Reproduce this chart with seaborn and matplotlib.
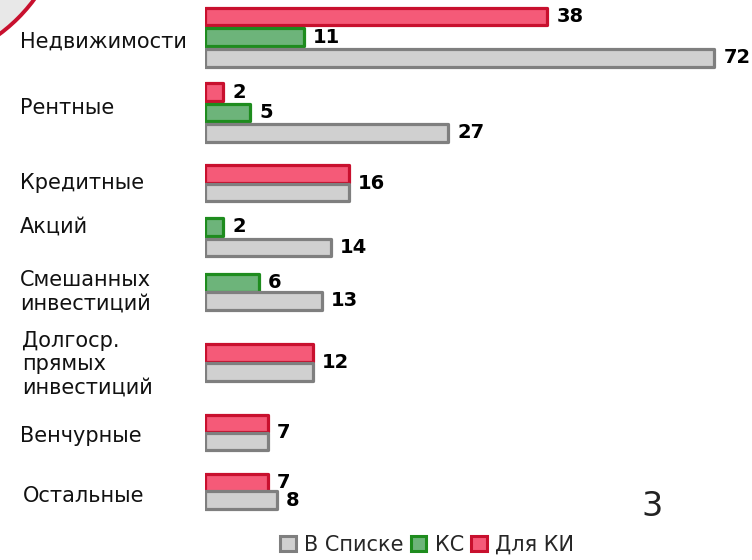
import numpy as np
import pandas as pd
import matplotlib.pyplot as plt
import matplotlib.colors as mcolors
import seaborn as sns
from matplotlib.patches import Circle, Patch

# ---- data ----
categories = ["Недвижимости", "Рентные", "Кредитные", "Акций",
              "Смешанных\nинвестиций", "Долгоср.\nпрямых\nинвестиций",
              "Венчурные", "Остальные"]
series = ["Для КИ", "КС", "В Списке"]          # top-to-bottom inside a group
v_ki = [38, 2, 16, None, None, 12, 7, 7]
v_ks = [11, 5, None, 2, 6, None, None, None]
v_list = [72, 27, 16, 14, 13, 12, 7, 8]
legend_order = ["В Списке", "КС", "Для КИ"]
page_number = "3"

# ---- layout (pixels from the top of the 752x560 canvas) ----
W, H = 752, 560
group_top = [16.5, 92, 174, 227, 283, 353, 423.5, 483]
group_pitch = [20.7, 20.5, 18.5, 20.5, 18, 19, 18, 17]
label_baseline = [48, 114, 189, 233, 286, 347, 442, 502]
label_x = [20, 20, 20, 20, 20, 22, 20, 23]
line_px = 23.5
bar_h = 17.5
px_per_unit = 9.0
x0_px = 204.5

fill = {"В Списке": "#D0D0D0", "КС": "#6DB47A", "Для КИ": "#F55A78"}
edge = {"В Списке": "#7F7F7F", "КС": "#1E8C1E", "Для КИ": "#C8102E"}

# long table, one row per drawn bar
rows = []
for i, cat in enumerate(categories):
    y = group_top[i]
    for s, vals in zip(series, [v_ki, v_ks, v_list]):
        if vals[i] is None:
            continue
        rows.append({"cat": cat, "series": s, "value": vals[i], "y": y})
        y += group_pitch[i]
df = pd.DataFrame(rows)

# the slide squeezes the long bar (72) – axis compressed past 40
brk, k = 40.0, 0.52


def fwd(x):
    x = np.asarray(x, float)
    return np.where(x <= brk, x, brk + (x - brk) * k)


def inv(x):
    x = np.asarray(x, float)
    return np.where(x <= brk, x, brk + (x - brk) / k)


sns.set_theme(style="white")
plt.rcParams["font.family"] = ["DejaVu Sans"]

fig = plt.figure(figsize=(W / 100, H / 100), dpi=100)
ax = fig.add_axes([x0_px / W, 0, 1 - x0_px / W, 1])
ax.set_facecolor("none")

min_gap = np.diff(np.unique(df["y"])).min()
sns.barplot(data=df, x="value", y="y", hue="series", hue_order=series,
            palette=fill, orient="h", native_scale=True, dodge=False,
            width=bar_h / min_gap, saturation=1, errorbar=None,
            legend=False, ax=ax)

edge_by_fill = {mcolors.to_hex(c): edge[s] for s, c in fill.items()}
for bar in ax.patches:
    fc = mcolors.to_hex(bar.get_facecolor())
    bar.set_edgecolor(edge_by_fill.get(fc, "#7F7F7F"))
    bar.set_linewidth(2.3)
    bar.set_joinstyle("round")

ax.set_xscale("function", functions=(fwd, inv))
ax.set_xlim(0, float(inv((W - x0_px) / px_per_unit)))
ax.set_ylim(H, 0)
ax.axis("off")

# value labels; one label when red and grey bars are equal
for cat in categories:
    g = df[df["cat"] == cat]
    ki = g[g["series"] == "Для КИ"]
    gl = g[g["series"] == "В Списке"]
    if len(ki) and ki["value"].iloc[0] == gl["value"].iloc[0]:
        items = [(gl["value"].iloc[0], (ki["y"].iloc[0] + gl["y"].iloc[0]) / 2)]
    else:
        items = list(zip(g["value"], g["y"]))
    for v, y in items:
        ax.annotate(str(v), xy=(v, y), xytext=(7, 0), textcoords="offset points",
                    ha="left", va="center", fontsize=14, fontweight="bold",
                    color="black")

# category names on the left, one text per line
for cat, xb, yb in zip(categories, label_x, label_baseline):
    for j, line in enumerate(cat.split("\n")):
        fig.text(xb / W, 1 - (yb + j * line_px) / H, line, ha="left",
                 va="baseline", fontsize=15, color="#111111")

# decorative corner badge from the slide
fig.patches.append(Circle((-1.0, H / 100 + 1.0), 1.67, transform=fig.dpi_scale_trans,
                          facecolor="#E8E8E8", edgecolor="#C8102E", lw=2.8))

fig.text(652 / W, 1 - 516 / H, page_number, ha="center", va="baseline",
         fontsize=24, color="#222222")

handles = [Patch(facecolor=fill[s], edgecolor=edge[s], lw=2.2, label=s)
           for s in legend_order]
fig.legend(handles=handles, loc="center", bbox_to_anchor=(427 / W, 1 - 545 / H),
           ncol=3, frameon=False, fontsize=15, handlelength=0.75,
           handleheight=0.75, handletextpad=0.4, columnspacing=0.35,
           borderpad=0)

fig.savefig("out.png", dpi=100)
